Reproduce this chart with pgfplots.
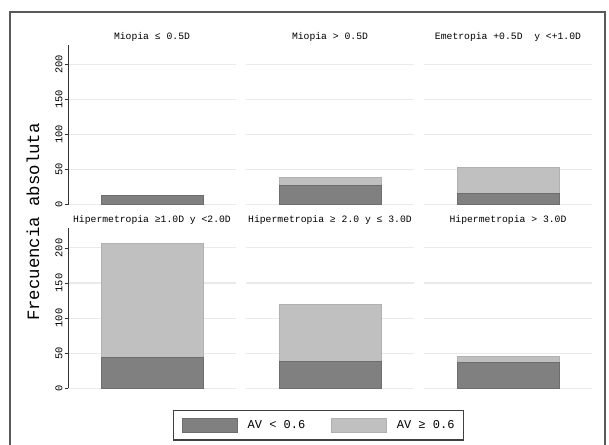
\documentclass[border=0pt]{standalone}
\usepackage{pgfplots}
\pgfplotsset{compat=1.18}
\usepackage{fontspec}
\setmainfont{Liberation Mono}
\setmonofont{Liberation Mono}
\definecolor{dk}{HTML}{808080}
\definecolor{lt}{HTML}{C0C0C0}
\definecolor{grd}{HTML}{EAEAEA}
\pgfplotsset{
 panel/.style={
  scale only axis, width=126pt, height=120pt,
  xmin=0, xmax=1, ymin=0, ymax=228, enlargelimits=false,
  ybar stacked, bar width=76.5pt,
  axis lines*=left, x axis line style={draw=none},
  xtick=\empty, ytick={0,50,100,150,200},
  ymajorgrids, grid style={grd, line width=0.8pt},
  tick align=outside, major tick length=2.5pt, ytick pos=left,
  y axis line style={black!80, line width=0.6pt},
  ytick style={black!80, line width=0.6pt},
  yticklabel style={rotate=90, anchor=south, font=\fontsize{7.8}{8}\selectfont, inner sep=1.5pt},
  /pgf/number format/assume math mode=true,
  title style={at={(0.5,1)}, anchor=center, yshift=0pt, font=\fontsize{7.3}{8}\selectfont},
 },
 noy/.style={y axis line style={draw=none}, ytick style={draw=none}, yticklabels={{},{},{},{},{}}},
 dkbar/.style={fill=dk, draw=dk!85!black, line width=0.4pt},
 ltbar/.style={fill=lt, draw=lt!92!black, line width=0.4pt},
 mylegimg/.style={legend image code/.code={\draw[##1] (0pt,-5.6pt) rectangle (41.25pt,5.6pt);}},
}
\begin{document}
\begin{tikzpicture}
\path[use as bounding box] (0,0) rectangle (456.75pt,-333pt);
\draw[line width=1.2pt, black!65] (7.5pt,-334pt) -- (7.5pt,-9pt) -- (453.75pt,-9pt) -- (453.75pt,-334pt);
\node[rotate=90, font=\fontsize{13}{14}\selectfont] at (24.75pt,-166.5pt) {Frecuencia absoluta};

% Row 1
\begin{axis}[panel, at={(51pt,-153.5pt)}, anchor=south west, title={Miopia ≤ 0.5D}]
\addplot[dkbar] coordinates {(0.5,13)};
\end{axis}
\begin{axis}[panel, noy, at={(184.5pt,-153.5pt)}, anchor=south west, title={Miopia > 0.5D}]
\addplot[dkbar] coordinates {(0.5,28)};
\addplot[ltbar] coordinates {(0.5,11)};
\end{axis}
\begin{axis}[panel, noy, at={(318pt,-153.5pt)}, anchor=south west, title={Emetropia +0.5D\ \ y <+1.0D}]
\addplot[dkbar] coordinates {(0.5,16)};
\addplot[ltbar] coordinates {(0.5,37)};
\end{axis}

% Row 2
\begin{axis}[panel, at={(51pt,-291.2pt)}, anchor=south west, title={Hipermetropia ≥1.0D y <2.0D}]
\addplot[dkbar] coordinates {(0.5,44)};
\addplot[ltbar] coordinates {(0.5,163)};
\end{axis}
\begin{axis}[panel, noy, at={(184.5pt,-291.2pt)}, anchor=south west, title={Hipermetropia ≥ 2.0 y ≤ 3.0D},
  every axis plot post/.append style={mylegimg},
  legend columns=2,
  legend style={at={(axis description cs:-0.4345,-0.1356)}, anchor=north west,
    draw=black!75, line width=0.8pt, font=\fontsize{9}{10}\selectfont,
    inner xsep=6.5pt, inner ysep=5.25pt, column sep=7.5pt,
    /tikz/every even column/.append style={column sep=19.5pt},
    nodes={inner sep=0pt}}]
\addplot[dkbar] coordinates {(0.5,38)};
\addplot[ltbar] coordinates {(0.5,82)};
\legend{AV < 0.6, AV ≥ 0.6}
\end{axis}
\begin{axis}[panel, noy, at={(318pt,-291.2pt)}, anchor=south west, title={Hipermetropia > 3.0D}]
\addplot[dkbar] coordinates {(0.5,37)};
\addplot[ltbar] coordinates {(0.5,9)};
\end{axis}
\end{tikzpicture}
\end{document}
